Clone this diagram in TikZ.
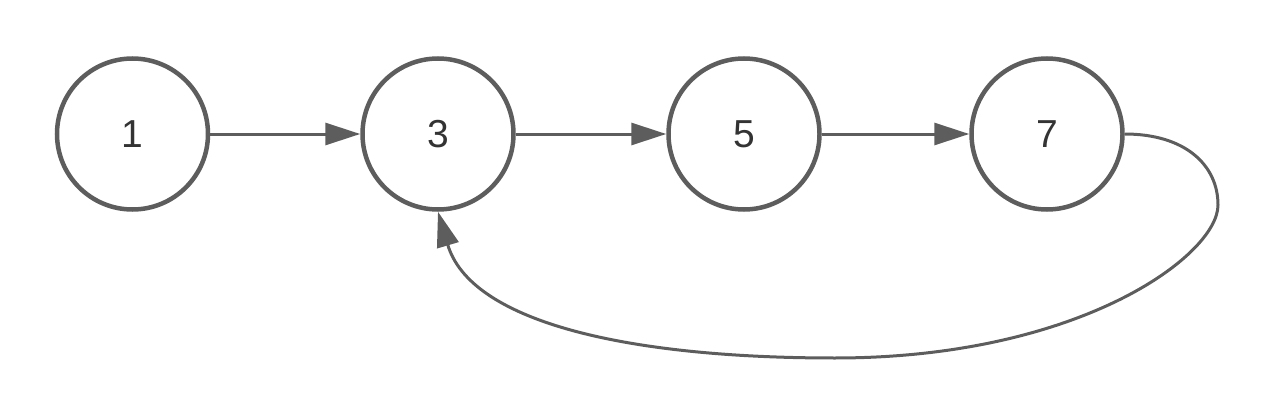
\documentclass[tikz,border=0pt]{standalone}
\usepackage{fontspec}
\setmainfont{Liberation Sans}
\usetikzlibrary{arrows.meta}
\definecolor{edgegray}{RGB}{93,93,93}
\definecolor{textgray}{RGB}{51,51,51}
\tikzset{
  statenode/.style={circle, draw=edgegray, line width=4.5pt, minimum size=151pt, inner sep=0pt,
    text=textgray, font=\fontsize{39}{40}\selectfont},
  link/.style={draw=edgegray, line width=3pt, -{Triangle[length=35pt, width=22pt]}}
}
\begin{document}
\begin{tikzpicture}[x=1pt,y=-1pt]
\useasboundingbox (0,0) rectangle (1286,412);
\node[statenode] (n1) at (132.5,134) {1};
\node[statenode] (n3) at (438,134) {3};
\node[statenode] (n5) at (744,134) {5};
\node[statenode] (n7) at (1047,134) {7};
\coordinate (r) at (1218,205);
\coordinate (b) at (835,358);
\draw[link] (n1) -- (n3);
\draw[link] (n3) -- (n5);
\draw[link] (n5) -- (n7);
\draw[link] (n7.east) .. controls (1185,134) and (1218,165) .. (r)
  .. controls (1218,255) and (1080,358) .. (b)
  .. controls (620,358) and (470,320) .. (n3.south);
\end{tikzpicture}
\end{document}
